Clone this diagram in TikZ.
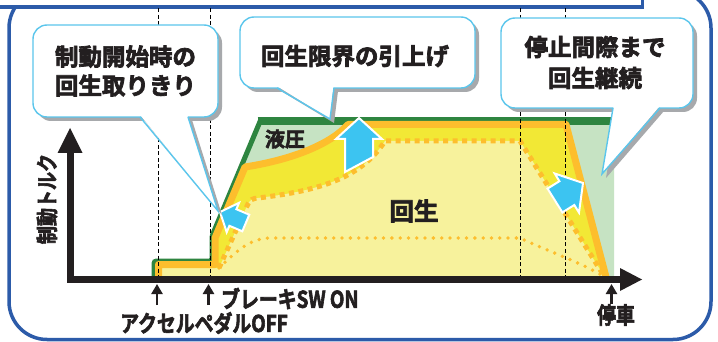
\documentclass[tikz,border=0pt]{standalone}
\usepackage{fontspec}
\setmainfont{Noto Sans CJK JP Bold}[FakeBold=3,RawFeature={embolden=3}]
\newfontfamily\jpc{Noto Sans CJK JP Bold}[FakeStretch=0.82,RawFeature={embolden=2.5}]
\usetikzlibrary{arrows.meta}
\definecolor{bdblue}{HTML}{2C5BA9}
\definecolor{dgreen}{HTML}{2E8540}
\definecolor{lgreen}{HTML}{C6E3C3}
\definecolor{orng}{HTML}{FDBE2D}
\definecolor{ylw}{HTML}{F2E835}
\definecolor{pale}{HTML}{F7F29C}
\definecolor{cbord}{HTML}{5BC6EC}
\definecolor{ablue}{HTML}{3CC4F1}
\definecolor{shgray}{HTML}{A7A9AC}
\definecolor{ink}{HTML}{231F20}
\tikzset{
  dashv/.style={black, line width=1pt, dash pattern=on 4pt off 2.5pt},
  axisline/.style={ink, line width=7pt},
  tickarrow/.style={ink, line width=2.5pt, -{Triangle[length=10pt,width=11pt]}},
  barrow/.style={fill=ablue, draw=white, line width=2pt, line join=miter},
  cbox/.style={draw=cbord, line width=1.4pt, fill=white, rounded corners=14pt},
  ctxt/.style={text=ink, font=\fontsize{23.5}{29}\selectfont, align=center, inner sep=0pt},
  lbl/.style={text=ink, font=\jpc\fontsize{23}{26}\selectfont, inner sep=0pt},
}
% #1 x1, #2 y1, #3 x2, #4 y2, #5 tail left x, #6 tail right x, #7 tip x, #8 tip y
\newcommand\mycallout[8]{%
  \begin{scope}[shift={(4,4)}]
    \fill[shgray, rounded corners=14pt] (#1,#2) rectangle (#3,#4);
    \fill[shgray] (#5,#4-1) -- (#7,#8) -- (#6,#4-1) -- cycle;
  \end{scope}
  \draw[cbox] (#1,#2) rectangle (#3,#4);
  \fill[white] (#5+0.6,#4-1.5) -- (#7,#8) -- (#6-0.6,#4-1.5) -- cycle;
  \draw[cbord, line width=1.4pt, line join=miter] (#5,#4) -- (#7,#8) -- (#6,#4);
}
\begin{document}
\begin{tikzpicture}[x=1pt,y=-1pt]
\useasboundingbox (0,0) rectangle (718,342);
\clip (0,0) rectangle (718,342);
\fill[white] (0,0) rectangle (718,342);
\draw[bdblue, line width=3.5pt, fill=white, rounded corners=38pt] (9,-10) rectangle (711,339.5);
\draw[bdblue, line width=3.5pt, fill=white] (-10,-10) rectangle (642.5,7);

% graph fills
\fill[lgreen] (154,276) -- (154,261) -- (212,261) -- (212,236) -- (261,119) -- (614,119) -- (614,276) -- cycle;
\fill[ylw] (158.5,276) -- (158.5,264.5) -- (215,264.5) -- (215,238) -- (245,167) .. controls (290,160) and (330,145) .. (348,124.5) -- (566,124.5) -- (606,276) -- cycle;
\fill[pale] (162,276) -- (162,268) -- (219,268) -- (247,206) .. controls (250,199) and (253,198.5) .. (258,198) .. controls (315,191) and (360,180) .. (385,141) -- (520,141) -- (604,276) -- cycle;
% green outline
\draw[dgreen, line width=5pt, rounded corners=2.5pt] (154,277) -- (154,261) -- (212,261) -- (212,236) -- (261.5,118);
\draw[dgreen, line width=8pt] (257.5,121) -- (612,121);
% orange outline
\draw[orng, line width=7pt, line join=round] (158.5,277) -- (158.5,264.5) -- (215,264.5) -- (215,238) -- (245,167) .. controls (290,160) and (330,145) .. (348,124.5) -- (566,124.5) -- (606,277);
% dotted limits
\draw[orng, line width=5pt, dash pattern=on 5pt off 4.5pt, line join=round] (219,268) -- (247,206) .. controls (250,199) and (253,198.5) .. (258,198) .. controls (315,191) and (360,180) .. (385,141) -- (520,141) -- (604,276);
\draw[orng, line width=3.8pt, line cap=round, dash pattern=on 0pt off 8.3pt] (219,268) .. controls (238,250) and (250,238) .. (272,238) -- (520,238) .. controls (545,250) and (580,262) .. (603,276);

% dashed time markers
\foreach \x in {158,210,520,565} \draw[dashv] (\x,8.5) -- (\x,276);

% axes
\draw[axisline] (70,150) -- (70,279.5) -- (621,279.5);
\fill[ink] (70,128) -- (82.5,153) -- (57.5,153) -- cycle;
\fill[ink] (642,279.5) -- (620,268) -- (620,291) -- cycle;

% blue arrows
\draw[barrow] (220,212) -- (239.1,202.8) -- (236.4,209.2) -- (249.3,214.7) -- (242.3,231.3) -- (229.4,225.8) -- (226.7,232.2) -- cycle;
\draw[barrow] (359,118) -- (382,139) -- (373,139) -- (373,157) -- (345,172) -- (345,139) -- (336,139) -- cycle;
\draw[barrow] (583,183) -- (579,212.6) -- (574.3,205) -- (562.4,212.4) -- (547.5,188.6) -- (559.4,181.2) -- (554.7,173.5) -- cycle;

% area labels
\node[text=ink, font=\fontsize{20}{22}\selectfont, inner sep=0pt] (yk) at (285,139) {液圧};
\node[text=ink, font=\fontsize{24.5}{26}\selectfont, inner sep=0pt] (ks) at (414,211) {回生};

% callouts
\mycallout{33}{25}{218}{117}{140}{188}{218}{211}
\node[ctxt] (t1) at (125.5,71) {制動開始時の\\回生取りきり};
\mycallout{240}{17}{475}{88}{277}{334}{330}{119}
\node[ctxt] (t2) at (355,56) {回生限界の引上げ};
\mycallout{501}{18}{693}{108}{613}{660}{602}{174}
\node[ctxt] (t3) at (595,62.5) {停止間際まで\\[2pt]回生継続};

% time labels
\coordinate (a1) at (157,305);  \coordinate (b1) at (157,284);
\coordinate (a2) at (208.5,305); \coordinate (b2) at (208.5,284);
\coordinate (a3) at (611.5,304); \coordinate (b3) at (611.5,284);
\draw[tickarrow] (a1) -- (b1);
\draw[tickarrow] (a2) -- (b2);
\draw[tickarrow] (a3) -- (b3);
\node[lbl, anchor=west] (bsw) at (221,298.5) {ブレーキSW ON};
\node[lbl] (acc) at (204,323) {アクセルペダルOFF};
\node[lbl] (stp) at (616,315) {停車};
\node[lbl, rotate=90, font=\jpc\fontsize{22}{24}\selectfont] (yl) at (47,199) {制動トルク};
\end{tikzpicture}
\end{document}
